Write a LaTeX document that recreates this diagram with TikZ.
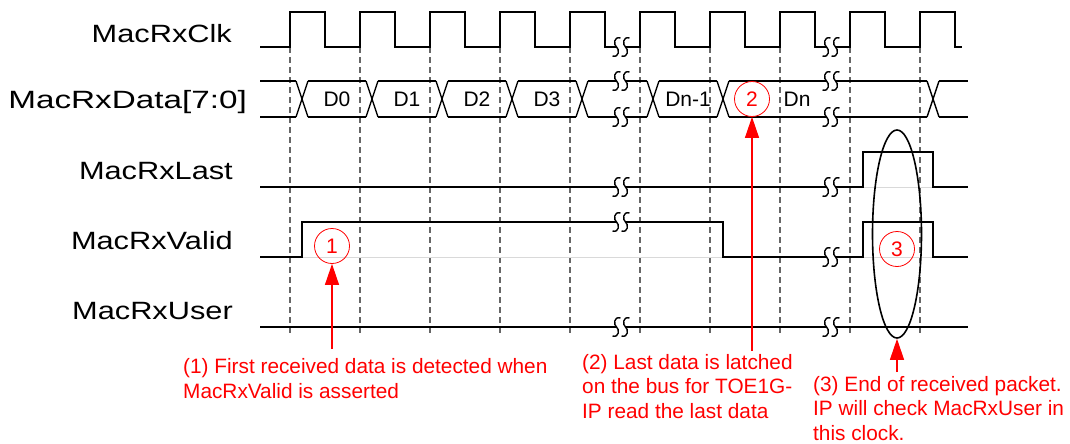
\documentclass[tikz,border=0pt]{standalone}
\usepackage{fontspec}
\setmainfont{Liberation Sans}
\newfontfamily\labelfont[FakeStretch=1.23]{Liberation Sans}
\newfontfamily\buslabelfont[FakeStretch=1.33]{Liberation Sans}
\usepackage{tikz}
\usetikzlibrary{arrows.meta,shapes.geometric,calc}
\newcommand{\wavebreak}[2]{
  \fill[white] (#1-4.5,#2-2.5) rectangle (#1+4.5,#2+2.5);
  \foreach \dx in {-4.5,4.5} {
    \draw[line width=1.4pt] (#1+\dx+4,#2-9) .. controls (#1+\dx-3,#2-11) and (#1+\dx-3,#2-2) .. (#1+\dx,#2)
      .. controls (#1+\dx+3,#2+2) and (#1+\dx+3,#2+11) .. (#1+\dx-4,#2+9);
  }
}

\begin{document}
\begin{tikzpicture}[x=1pt,y=-1pt]
\tikzstyle{wave}=[line width=1.4pt,line join=miter]
\tikzstyle{ghost}=[gray!30,line width=0.8pt]
\tikzstyle{guide}=[gray!80!black,line width=1.2pt,dash pattern=on 6pt off 4pt]
\tikzstyle{sig}=[font=\labelfont\fontsize{25}{29}\selectfont,anchor=base east,inner sep=0pt]
\tikzstyle{byte}=[font=\fontsize{21}{24}\selectfont,inner sep=0pt]
\tikzstyle{numcircle}=[draw=red,text=red,circle,line width=0.8pt,minimum size=35pt,inner sep=0pt,font=\fontsize{21}{24}\selectfont]
\tikzstyle{note}=[text=red,align=left,anchor=base west,inner sep=0pt,font=\fontsize{20.8}{24.5}\selectfont]
\tikzstyle{callout}=[red,line width=1.2pt,-{Triangle[length=21pt,width=14pt]}]
\useasboundingbox (0,0) rectangle (1070,444);

% signal names
\node[sig] (clk) at (232,42) {MacRxClk};
\node[sig,font=\buslabelfont\fontsize{25}{29}\selectfont] (data) at (247,108) {MacRxData[7:0]};
\node[sig] (last) at (233,179) {MacRxLast};
\node[sig] (valid) at (233,249) {MacRxValid};
\node[sig] (user) at (233,319) {MacRxUser};

% clock edges
\foreach \x in {290,360,...,920}
  \draw[guide] (\x,47) -- (\x,333);

% faint lines under pulses
\draw[ghost] (302,257) -- (723,257);
\draw[ghost] (863,257) -- (933,257);
\draw[ghost] (863,187) -- (933,187);

% MacRxClk
\draw[wave] (260,47) foreach \k in {0,...,9} {
  -- ({290+70*\k},47) -- ({290+70*\k},12) -- ({325+70*\k},12) -- ({325+70*\k},47)
} -- (962,47);

% MacRxData
\foreach \a/\b in {260/296,308/366,378/436,448/506,518/576,588/647,659/717,729/927,939/968} {
  \draw[wave] (\a,81) -- (\b,81);
  \draw[wave] (\a,117) -- (\b,117);
}
\foreach \c in {302,372,442,512,582,653,723,933} {
  \draw[wave] (\c-6,81) -- (\c+6,117);
  \draw[wave] (\c-6,117) -- (\c+6,81);
}
\node[byte] (d0) at (337,99) {D0};
\node[byte] (d1) at (407,99) {D1};
\node[byte] (d2) at (477,99) {D2};
\node[byte] (d3) at (547,99) {D3};
\node[byte] (dn1) at (688,99) {Dn-1};
\node[byte] (dn) at (797,99) {Dn};

% MacRxLast
\draw[wave] (260,187) -- (863,187) -- (863,152) -- (933,152) -- (933,187) -- (968,187);

% MacRxValid
\draw[wave] (260,257) -- (302,257) -- (302,222) -- (723,222) -- (723,257)
  -- (863,257) -- (863,222) -- (933,222) -- (933,257) -- (968,257);

% MacRxUser
\draw[wave] (260,327) -- (968,327);

% breaks
\foreach \y in {47,81,117,187,222,327} {\wavebreak{621}{\y}}
\foreach \y in {47,81,117,187,257,327} {\wavebreak{831}{\y}}

% markers
\node[numcircle] (c1) at (332,246) {1};
\node[numcircle,fill=white] (c2) at (752,99) {2};
\node[numcircle] (c3) at (897,249) {3};
\node[draw,ellipse,line width=1.6pt,minimum width=49pt,minimum height=208pt,inner sep=0pt] (ell) at (897,234) {};

% notes (base = last line)
\node[note] (n1) at (183,398) {(1) First received data is detected when\\MacRxValid is asserted};
\node[note] (n2) at (582,418) {(2) Last data is latched\\on the bus for TOE1G-\\IP read the last data};
\node[note] (n3) at (813,440) {(3) End of received packet.\\IP will check MacRxUser in\\this clock.};

\coordinate (a1) at (332,349);
\coordinate (a2) at (752,351);
\coordinate (a3) at (897,372);
\draw[callout] (a1) -- (c1.south);
\draw[callout] (a2) -- (c2.south);
\draw[callout] (a3) -- (ell.south);
\end{tikzpicture}
\end{document}
